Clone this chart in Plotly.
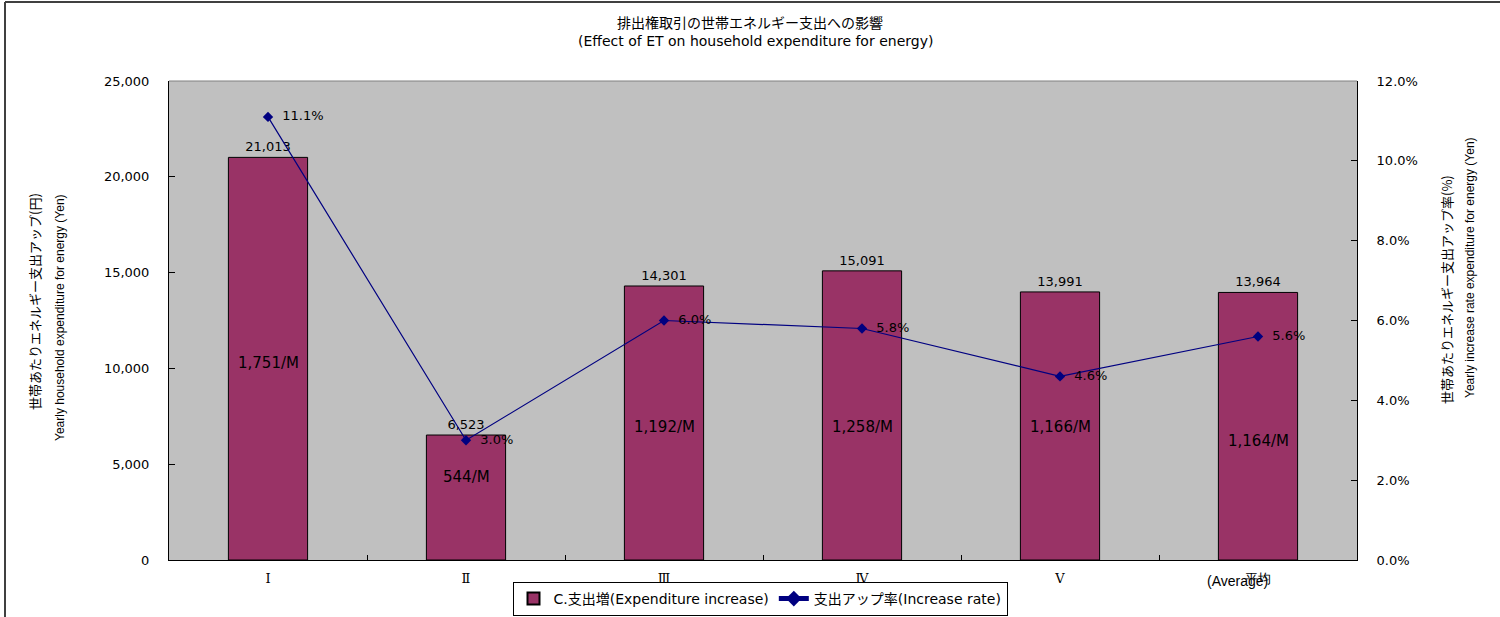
import plotly.graph_objects as go

# Household income quintiles plus the overall average
categories = ["Ⅰ", "Ⅱ", "Ⅲ", "Ⅳ", "Ⅴ", "平均"]
yearly_increase = [21013, 6523, 14301, 15091, 13991, 13964]   # yen per household per year
monthly_increase = [1751, 544, 1192, 1258, 1166, 1164]         # yen per household per month
increase_rate = [0.111, 0.030, 0.060, 0.058, 0.046, 0.056]

# vertical placement (in yen) of the per-month labels inside each bar
monthly_label_y = [10300, 4330, 6940, 6940, 6940, 6210]

BAR = "#993366"
LINE = "#000080"
WIDE = "DejaVu Sans"
NARROW = "Liberation Sans Narrow, Liberation Sans"
CJK = "Noto Sans CJK JP"

L, R, T, B = 169, 143, 81, 57
W, H = 1500, 617
pw, ph = W - L - R, H - T - B


def px(x):
    return (x - L) / pw


def py(y):
    return (H - B - y) / ph


def label(x, y, text, family, size, angle=0):
    return dict(x=px(x), y=py(y), xref="paper", yref="paper", text=text, textangle=angle,
                xanchor="center", yanchor="middle", showarrow=False,
                font=dict(family=family, size=size, color="black"))


fig = go.Figure()

fig.add_trace(go.Bar(
    x=categories, y=yearly_increase, name="C.支出増(Expenditure increase)",
    marker=dict(color=BAR, line=dict(color="black", width=1)),
    texttemplate="%{y:,}", textposition="outside", cliponaxis=False,
    textfont=dict(family=WIDE, size=13, color="black"),
))

fig.add_trace(go.Scatter(
    x=categories, y=increase_rate, yaxis="y2", name="支出アップ率(Increase rate)",
    mode="lines+markers+text",
    line=dict(color=LINE, width=1.2),
    marker=dict(symbol="diamond", size=8, color=LINE),
    text=["  " + f"{v*100:.1f}%" for v in increase_rate],
    textposition="middle right",
    textfont=dict(family=WIDE, size=13, color="black"),
))

annotations = []
for c, m, yv in zip(categories, monthly_increase, monthly_label_y):
    annotations.append(dict(x=c, y=yv, xref="x", yref="y", text=f"{m:,}/M",
                            xanchor="center", yanchor="middle",
                            showarrow=False, font=dict(family=WIDE, size=15, color="black")))

annotations += [
    label(750, 22, "排出権取引の世帯エネルギー支出への影響", CJK, 14),
    label(755, 41, "(Effect of ET on household expenditure for energy)", WIDE, 14),
    label(34, 302, "世帯あたりエネルギー支出アップ(円)", CJK, 13, -90),
    label(60, 318, "Yearly household expenditure for energy (Yen)", NARROW, 12, -90),
    label(1446, 290, "世帯あたりエネルギー支出アップ率(%)", CJK, 13, -90),
    label(1470, 268, "Yearly increase rate expenditure for energy (Yen)", NARROW, 12, -90),
    label(1237, 581, "(Average)", NARROW, 14),
]

shapes = [
    # outer frame
    dict(type="line", xref="paper", yref="paper", x0=px(5), x1=px(W), y0=py(2), y1=py(2),
         line=dict(color="#404040", width=2)),
    dict(type="line", xref="paper", yref="paper", x0=px(5), x1=px(5), y0=py(2), y1=py(H),
         line=dict(color="#404040", width=2)),
    # top edge of the plot area
    dict(type="line", xref="paper", yref="paper", x0=0, x1=1, y0=1, y1=1,
         line=dict(color="#808080", width=1)),
]

fig.update_layout(
    width=W, height=H,
    margin=dict(l=L, r=R, t=T, b=B, autoexpand=False),
    paper_bgcolor="white", plot_bgcolor="#C0C0C0",
    bargap=0.6, showlegend=True,
    legend=dict(orientation="h", x=px(760), xanchor="center", y=py(616), yanchor="bottom",
                bgcolor="white", bordercolor="black", borderwidth=1,
                font=dict(family=WIDE + ", " + CJK, size=14, color="black"),
                itemsizing="constant", tracegroupgap=0),
    xaxis=dict(type="category", showgrid=False, showline=True, linecolor="black", linewidth=1,
               ticks="inside", tickson="boundaries", ticklen=5, tickcolor="black",
               tickfont=dict(family="DejaVu Serif", size=13, color="black"),
               ticklabelstandoff=6, automargin=False),
    yaxis=dict(range=[0, 25000], dtick=5000, tickformat=",", showgrid=False, zeroline=False,
               showline=True, linecolor="black", linewidth=1,
               ticks="inside", ticklen=6, tickcolor="black", automargin=False,
               tickfont=dict(family=WIDE, size=13, color="black"), ticklabelstandoff=16),
    yaxis2=dict(range=[0, 0.12], dtick=0.02, tickformat=".1%", overlaying="y", side="right",
                showgrid=False, zeroline=False, showline=True, linecolor="black", linewidth=1,
                ticks="inside", ticklen=6, tickcolor="black", automargin=False,
                tickfont=dict(family=WIDE, size=13, color="black"), ticklabelstandoff=16),
    annotations=annotations, shapes=shapes,
)

fig.write_html("out.html")
